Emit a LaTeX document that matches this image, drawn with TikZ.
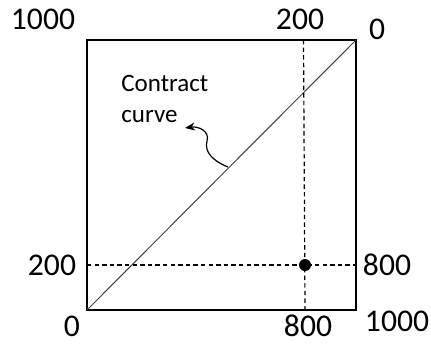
\documentclass[tikz,border=0pt]{standalone}
\usepackage{fontspec}
\setmainfont{Carlito}
\usetikzlibrary{arrows.meta}
\begin{document}
\begin{tikzpicture}[x=0.5pt,y=-0.5pt,
  lbl/.style={font=\fontsize{15.8}{18}\selectfont, inner sep=0pt},
  dsh/.style={line width=0.6pt, dash pattern=on 2.2pt off 1.6pt, black},
  frame/.style={line width=0.6pt, black}]
\useasboundingbox (0,0) rectangle (431,343);
\coordinate (bl) at (87,310);
\coordinate (tr) at (356,40);
\draw[frame] (bl) rectangle (tr);
\draw[line width=0.5pt, black!75] (bl) -- (tr);
\coordinate (vt) at (303.5,40);
\coordinate (vb) at (305,310);
\coordinate (hl) at (87,265);
\coordinate (hr) at (356,265);
\draw[dsh] (vt) -- (vb);
\draw[dsh] (hl) -- (hr);
\node[circle, fill=black, inner sep=0pt, minimum size=6pt] (dot) at (305,265) {};
\node[lbl] (t1000) at (43,19) {1000};
\node[lbl] (t200) at (300,19) {200};
\node[lbl] (t0) at (377,29) {0};
\node[lbl] (l200) at (52,265) {200};
\node[lbl] (r800) at (387,265) {800};
\node[lbl] (b0) at (72,326) {0};
\node[lbl] (b800) at (308,326) {800};
\node[lbl] (b1000) at (397,321) {1000};
\node[font=\fontsize{12.5}{15.5}\selectfont, align=left, anchor=north west, inner sep=0pt] (cc) at (121,75) {Contract\\curve};
\coordinate (cs) at (228,167);
\coordinate (cm) at (207,141);
\coordinate (ct) at (185,128);
\draw[line width=0.6pt, -{Stealth[length=5pt,width=4pt]}] (cs) .. controls (213,161) and (204,152) .. (cm) .. controls (210,131) and (198,126) .. (ct);
\end{tikzpicture}
\end{document}
